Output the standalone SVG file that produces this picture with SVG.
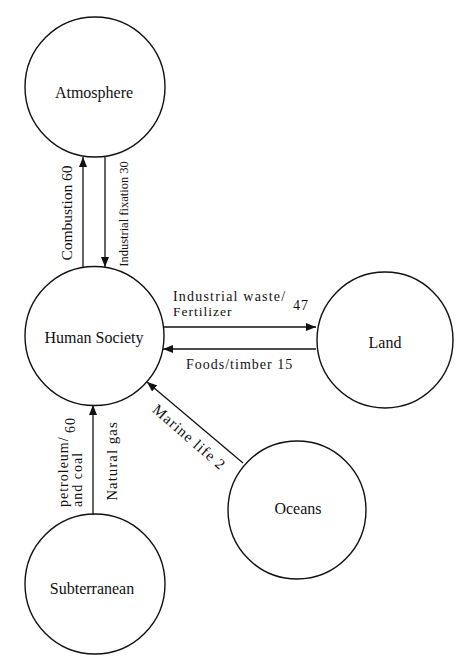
<svg xmlns="http://www.w3.org/2000/svg" width="470" height="668" viewBox="0 0 470 668">
<style>
.n{fill:none;stroke:#111;stroke-width:1.4}
.t{font-family:'Liberation Serif','DejaVu Serif',serif;font-size:16px;fill:#111;text-anchor:middle}
.l{font-family:'Liberation Serif','DejaVu Serif',serif;font-size:14px;letter-spacing:1px;fill:#111}
.c{stroke:#111;stroke-width:1.3;fill:none}
</style>
<defs>
<marker id="ah" viewBox="0 0 10 8" refX="10" refY="4" markerWidth="10" markerHeight="8" markerUnits="userSpaceOnUse" orient="auto">
<path d="M0,0 L10,4 L0,8 Z" fill="#111"/>
</marker>
</defs>
<rect width="470" height="668" fill="#fff"/>
<g id="atmosphere"><circle class="n" cx="95" cy="87" r="70"/><text class="t" x="94" y="98">Atmosphere</text></g>
<g id="human-society"><circle class="n" cx="94.5" cy="336" r="69.5"/><text class="t" x="94" y="343">Human Society</text></g>
<g id="land"><circle class="n" cx="385" cy="340" r="68"/><text class="t" x="385" y="348">Land</text></g>
<g id="oceans"><circle class="n" cx="297" cy="510" r="69"/><text class="t" x="298" y="514">Oceans</text></g>
<g id="subterranean"><circle class="n" cx="95" cy="584" r="70"/><text class="t" x="92" y="594">Subterranean</text></g>
<g id="connectors">
<line class="c" x1="83" y1="267" x2="83" y2="157" marker-end="url(#ah)"/>
<line class="c" x1="105" y1="157" x2="105" y2="267" marker-end="url(#ah)"/>
<line class="c" x1="163" y1="327" x2="316" y2="327" marker-end="url(#ah)"/>
<line class="c" x1="316" y1="349" x2="163" y2="349" marker-end="url(#ah)"/>
<line class="c" x1="243" y1="463" x2="147" y2="382" marker-end="url(#ah)"/>
<line class="c" x1="93" y1="515" x2="93" y2="405" marker-end="url(#ah)"/>
<text class="l" text-anchor="middle" style="font-size:15.5px;letter-spacing:0" transform="translate(72,213) rotate(-90)">Combustion 60</text>
<text class="l" text-anchor="middle" style="font-size:12.5px;letter-spacing:0" transform="translate(128,214) rotate(-90)">Industrial fixation 30</text>
<text class="l" x="173" y="301" style="letter-spacing:1.2px">Industrial waste/</text>
<text class="l" x="173" y="316" style="font-size:13.5px">Fertilizer</text>
<text class="l" x="293" y="310">47</text>
<text class="l" x="186" y="369">Foods/timber 15</text>
<text class="l" text-anchor="middle" style="font-size:15px" transform="translate(186,441) rotate(41)">Marine life 2</text>
<text class="l" text-anchor="middle" style="font-size:15px" transform="translate(117,461) rotate(-90)">Natural gas</text>
<text class="l" text-anchor="start" transform="translate(68,507) rotate(-90)">petroleum/</text>
<text class="l" text-anchor="start" transform="translate(82,507) rotate(-90)">and coal</text>
<text class="l" text-anchor="middle" transform="translate(75,425) rotate(-90)">60</text>
</g>
</svg>
